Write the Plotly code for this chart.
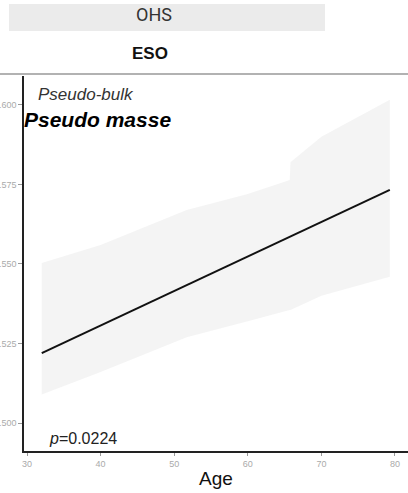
import plotly.graph_objects as go

# Data
band_x = [32.0, 40.0, 51.7, 60.0, 65.7, 65.8, 70.0, 79.3]
band_upper = [0.5503, 0.556, 0.567, 0.572, 0.5764, 0.582, 0.590, 0.6016]
band_lower = [0.509, 0.516, 0.527, 0.532, 0.5355, 0.5355, 0.540, 0.546]
fit_x = [32.0, 79.3]
fit_y = [0.522, 0.5733]
x_ticks = [30, 40, 50, 60, 70, 80]
y_ticks = [0.500, 0.525, 0.550, 0.575, 0.600]

PL, PT, PB, W, H = 24, 76, 42, 408, 493
PW = W - PL
PH = H - PT - PB


def px(x):
    return (x - PL) / PW


def py(y):
    return (H - PB - y) / PH


fig = go.Figure()
fig.add_trace(go.Scatter(
    x=band_x + band_x[::-1], y=band_upper + band_lower[::-1],
    fill="toself", fillcolor="rgba(200,200,200,0.2)", mode="lines",
    line=dict(width=0, color="rgba(0,0,0,0)"),
    hoverinfo="skip", showlegend=False))
fig.add_trace(go.Scatter(x=fit_x, y=fit_y, mode="lines",
                         line=dict(color="#111111", width=2), showlegend=False))

fig.update_layout(
    width=W, height=H,
    margin=dict(l=PL, r=0, t=PT, b=PB, autoexpand=False),
    paper_bgcolor="white", plot_bgcolor="white",
    showlegend=False,
    font=dict(family="Liberation Sans, Arial, sans-serif"),
    xaxis=dict(range=[29.59, 81.77], tickvals=x_ticks, showgrid=False, zeroline=False,
               showline=True, linecolor="#222222", linewidth=1.5, automargin=False,
               ticks="outside", ticklen=3, tickcolor="#999999",
               tickfont=dict(size=9, color="#aaaaaa"),
               title=dict(text="Age", font=dict(size=19, color="#111111"), standoff=4)),
    yaxis=dict(range=[0.4912, 0.6091], tickvals=y_ticks, tickformat=".3f", showgrid=False,
               zeroline=False, showline=True, linecolor="#222222", linewidth=1.5,
               automargin=False,
               ticks="outside", ticklen=4, tickcolor="#999999",
               tickfont=dict(size=9, color="#aaaaaa")),
)

fig.add_shape(type="rect", xref="paper", yref="paper",
              x0=px(9), x1=px(325), y0=py(31), y1=py(4),
              fillcolor="#ebebeb", line=dict(width=0), layer="below")
fig.add_shape(type="line", xref="paper", yref="paper",
              x0=px(0), x1=1, y0=py(74), y1=py(74),
              line=dict(color="#999999", width=1.5))


def ann(text, x, y, size, color, family="Liberation Sans, Arial", xanchor="center"):
    fig.add_annotation(text=text, xref="paper", yref="paper", x=px(x), y=py(y),
                       xanchor=xanchor, yanchor="middle", showarrow=False,
                       font=dict(family=family, size=size, color=color))


ann("OHS", 154, 15, 18, "#333333", family="Roboto, sans-serif")
ann("<b>ESO</b>", 150, 53, 17, "#111111")
ann("<i>Pseudo-bulk</i>", 36, 95, 17, "#333333", xanchor="left")
ann("<b><i>Pseudo masse</i></b>", 22, 120, 21, "#000000", xanchor="left")
ann("<i>p</i>=0.0224", 47, 438, 16, "#222222", xanchor="left")

fig.write_html("out.html")
